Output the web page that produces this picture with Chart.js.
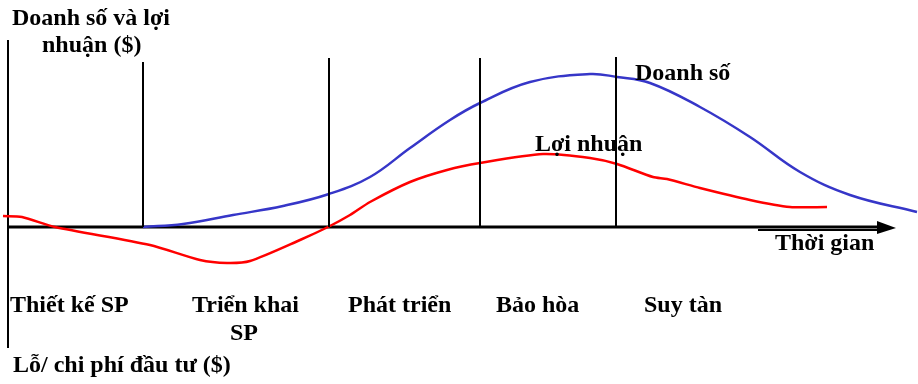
<!DOCTYPE html>
<html>
<head>
<meta charset="utf-8">
<script src="https://cdn.jsdelivr.net/npm/chart.js@4.4.1/dist/chart.umd.min.js"></script>
<style>
  html, body { margin: 0; padding: 0; background: #fff; }
  #wrap { width: 918px; height: 384px; }
</style>
</head>
<body>
<div id="wrap"><canvas id="plc" width="918" height="384"></canvas></div>
<script>
// Product life cycle: time on x, money on y (0 = break-even axis)
const salesTime   = [135, 175, 225, 275, 321, 362, 402, 442, 472, 522, 582, 609, 642, 692, 742, 792, 842, 909];
const salesValue  = [0, 3, 12, 21, 33, 50, 79, 107, 124, 145, 153, 150, 144, 120, 90, 55, 32, 15];
const profitTime  = [-5, 14, 47, 142, 192, 219, 242, 292, 320, 342, 362, 402, 439, 472, 535, 582, 609, 645, 659, 692, 742, 782, 819];
const profitValue = [11, 10, 0, -18, -33, -36, -34, -13, 0, 12, 25, 45, 57, 64, 73, 69, 63, 50, 48, 39, 27, 20, 20];
// stage boundaries and the height of each divider
const stageBounds = [135, 321, 472, 608];
const stageTops   = [165, 169, 169, 170];
const stageNames  = ['Thiết kế SP', 'Triển khai', 'Phát triển', 'Bảo hòa', 'Suy tàn'];

const toPts = (xs, ys) => xs.map((x, i) => ({ x: x, y: ys[i] }));

const dividerSets = stageBounds.map((t, i) => ({
  data: [{ x: t, y: 0 }, { x: t, y: stageTops[i] }],
  borderColor: '#000', borderWidth: 2, pointRadius: 0, tension: 0
}));

const FONT = 'bold 24px "Liberation Serif", "Times New Roman", serif';

const decor = {
  id: 'decor',
  beforeDatasetsDraw(chart) {
    const ctx = chart.ctx, xs = chart.scales.x, ys = chart.scales.y;
    ctx.save();
    ctx.strokeStyle = '#000';
    ctx.fillStyle = '#000';
    // vertical money axis
    ctx.lineWidth = 2;
    ctx.beginPath();
    ctx.moveTo(xs.getPixelForValue(0), ys.getPixelForValue(187));
    ctx.lineTo(xs.getPixelForValue(0), ys.getPixelForValue(-121));
    ctx.stroke();
    // time axis with arrow
    const y0 = ys.getPixelForValue(0);
    ctx.lineWidth = 3;
    ctx.beginPath();
    ctx.moveTo(xs.getPixelForValue(0), y0);
    ctx.lineTo(880, y0);
    ctx.stroke();
    ctx.lineWidth = 2;
    ctx.beginPath();
    ctx.moveTo(758, y0 + 3);
    ctx.lineTo(880, y0 + 3);
    ctx.stroke();
    ctx.beginPath();
    ctx.moveTo(877, y0 - 6);
    ctx.lineTo(896, y0 + 1);
    ctx.lineTo(877, y0 + 7);
    ctx.closePath();
    ctx.fill();
    ctx.restore();
  },
  afterDatasetsDraw(chart) {
    const ctx = chart.ctx;
    ctx.save();
    ctx.font = FONT;
    ctx.fillStyle = '#000';
    ctx.textBaseline = 'alphabetic';
    ctx.textAlign = 'left';
    ctx.fillText('Doanh số và lợi', 12, 25);
    ctx.fillText('nhuận ($)', 42, 52);
    ctx.fillText('Doanh số', 635, 80);
    ctx.fillText('Lợi nhuận', 535, 151);
    ctx.fillText('Thời gian', 775, 250);
    const stageX = [10, 192, 348, 496, 644];
    stageNames.forEach((s, i) => ctx.fillText(s, stageX[i], 312));
    ctx.fillText('SP', 230, 340);
    ctx.fillText('Lỗ/ chi phí đầu tư ($)', 13, 372);
    ctx.restore();
  }
};

new Chart(document.getElementById('plc'), {
  type: 'line',
  data: {
    datasets: [
      ...dividerSets,
      {
        label: 'Doanh số',
        data: toPts(salesTime, salesValue),
        borderColor: '#3636c8', borderWidth: 2.5, pointRadius: 0,
        tension: 0.4
      },
      {
        label: 'Lợi nhuận',
        data: toPts(profitTime, profitValue),
        borderColor: '#ff0000', borderWidth: 2.5, pointRadius: 0,
        tension: 0.25
      }
    ]
  },
  options: {
    responsive: false,
    animation: false,
    devicePixelRatio: 1,
    layout: { padding: 0 },
    plugins: { legend: { display: false }, tooltip: { enabled: false } },
    scales: {
      x: { type: 'linear', min: -8, max: 910, display: false },
      y: { type: 'linear', min: -157, max: 227, display: false }
    },
    elements: { line: { borderCapStyle: 'butt' } }
  },
  plugins: [decor]
});
</script>
</body>
</html>
